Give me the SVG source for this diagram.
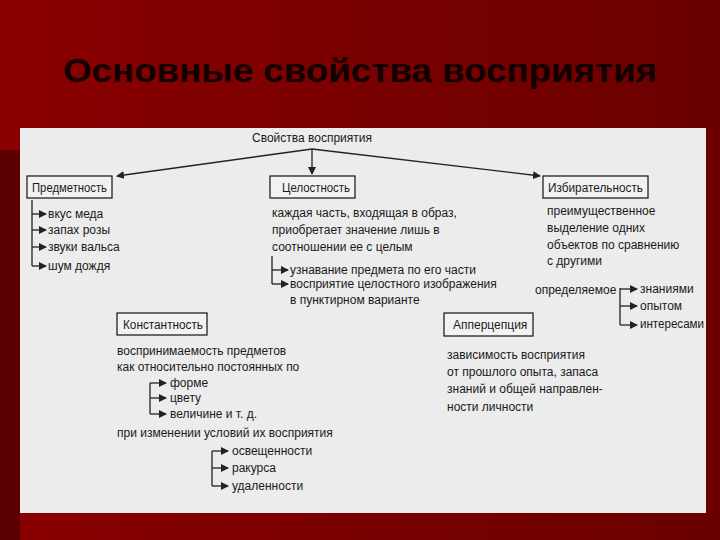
<svg xmlns="http://www.w3.org/2000/svg" width="720" height="540" viewBox="0 0 720 540">
<defs>
<linearGradient id="bg" x1="0" y1="0" x2="1" y2="0"><stop offset="0" stop-color="#8a0000"/><stop offset="0.6" stop-color="#760000"/><stop offset="1" stop-color="#6a0000"/></linearGradient>
<marker id="ar" markerWidth="8" markerHeight="8" refX="7" refY="4" orient="auto" markerUnits="userSpaceOnUse"><path d="M0,0L8,4L0,8z" fill="#222"/></marker>
<style>
text{font-family:"Liberation Sans",Arial,sans-serif;fill:#1a1a1a;font-size:12px}
.b{fill:#f2f2f2;stroke:#222;stroke-width:1.3}
.l{fill:none;stroke:#222;stroke-width:1.3}
.t{font-size:34px;font-weight:bold;fill:#120000}
</style>
</defs>
<rect width="720" height="540" fill="url(#bg)"/>
<rect x="0" y="150" width="20" height="390" fill="#5a0000"/>
<text class="t" x="360" y="82" text-anchor="middle" textLength="594" lengthAdjust="spacingAndGlyphs">Основные свойства восприятия</text>
<rect x="20" y="128" width="686" height="385" fill="#ececec"/>
<text x="312" y="142" text-anchor="middle" font-size="11">Свойства восприятия</text>
<g id="connectors">
<path class="l" d="M312,149L117,176" marker-end="url(#ar)"/><path class="l" d="M312,149V174" marker-end="url(#ar)"/><path class="l" d="M312,149L540,176" marker-end="url(#ar)"/>
<path class="l" d="M32,200V266"/>
<path class="l" d="M32,214H46" marker-end="url(#ar)"/><path class="l" d="M32,230H46" marker-end="url(#ar)"/><path class="l" d="M32,247H46" marker-end="url(#ar)"/><path class="l" d="M32,266H46" marker-end="url(#ar)"/>
<path class="l" d="M272,256V284"/>
<path class="l" d="M272,270H288" marker-end="url(#ar)"/><path class="l" d="M272,284H288" marker-end="url(#ar)"/>
<path class="l" d="M620,288V325"/><path class="l" d="M620,289H637" marker-end="url(#ar)"/><path class="l" d="M620,306H637" marker-end="url(#ar)"/><path class="l" d="M620,325H637" marker-end="url(#ar)"/>
<path class="l" d="M150,383V414"/><path class="l" d="M150,383H166" marker-end="url(#ar)"/><path class="l" d="M150,398H166" marker-end="url(#ar)"/><path class="l" d="M150,414H166" marker-end="url(#ar)"/>
<path class="l" d="M212,451V486"/><path class="l" d="M212,451H228" marker-end="url(#ar)"/><path class="l" d="M212,468H228" marker-end="url(#ar)"/><path class="l" d="M212,486H228" marker-end="url(#ar)"/>
</g>
<g id="predmet"><rect class="b" x="27" y="176" width="85" height="22"/><text x="32" y="192" textLength="75" lengthAdjust="spacingAndGlyphs">Предметность</text>
<text x="48" y="218">вкус меда</text><text x="48" y="234">запах розы</text><text x="48" y="251">звуки вальса</text><text x="48" y="270">шум дождя</text></g>
<g id="celost"><rect class="b" x="270" y="176" width="85" height="22"/><text x="282" y="192" textLength="68" lengthAdjust="spacingAndGlyphs">Целостность</text>
<text x="272" y="217">каждая часть, входящая в образ,</text><text x="272" y="234">приобретает значение лишь в</text><text x="272" y="251">соотношении ее с целым</text>
<text x="290" y="274">узнавание предмета по его части</text><text x="290" y="288">восприятие целостного изображения</text><text x="290" y="304">в пунктирном варианте</text></g>
<g id="izbir"><rect class="b" x="543" y="176" width="105" height="22"/><text x="548" y="192" textLength="95" lengthAdjust="spacingAndGlyphs">Избирательность</text>
<text x="547" y="215">преимущественное</text><text x="547" y="232">выделение одних</text><text x="547" y="249">объектов по сравнению</text><text x="547" y="265">с другими</text>
<text x="535" y="294">определяемое</text><text x="640" y="293">знаниями</text><text x="640" y="310">опытом</text><text x="640" y="328" textLength="64" lengthAdjust="spacingAndGlyphs">интересами</text></g>
<g id="konst"><rect class="b" x="117" y="313" width="90" height="22"/><text x="123" y="329" textLength="80" lengthAdjust="spacingAndGlyphs">Константность</text>
<text x="117" y="355">воспринимаемость предметов</text><text x="117" y="371">как относительно постоянных по</text>
<text x="170" y="387">форме</text><text x="170" y="402">цвету</text><text x="170" y="418">величине и т. д.</text>
<text x="117" y="437">при изменении условий их восприятия</text>
<text x="232" y="455">освещенности</text><text x="232" y="472">ракурса</text><text x="232" y="490">удаленности</text></g>
<g id="apperc"><rect class="b" x="444" y="313" width="89" height="23"/><text x="453" y="329">Апперцепция</text>
<text x="447" y="359">зависимость восприятия</text><text x="447" y="376">от прошлого опыта, запаса</text><text x="447" y="393">знаний и общей направлен-</text><text x="447" y="411">ности личности</text></g>
</svg>
